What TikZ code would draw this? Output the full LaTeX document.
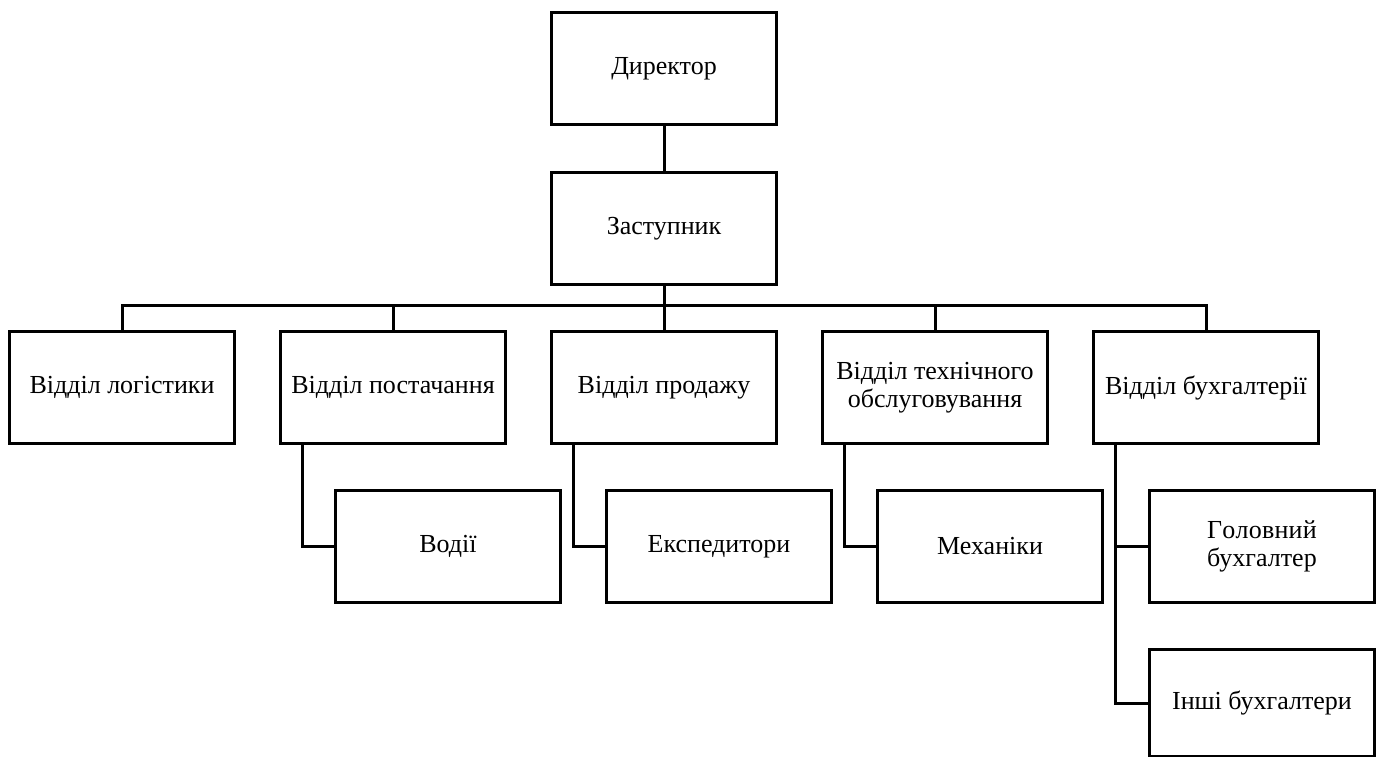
\documentclass[tikz,border=0pt]{standalone}
\usepackage{fontspec}
\setmainfont{Liberation Serif}
\newfontfamily\boxfont{Liberation Serif}
\usetikzlibrary{calc}
\begin{document}
\begin{tikzpicture}[x=1pt,y=-1pt,
  box/.style={draw=black,line width=3pt,minimum width=225pt,minimum height=112pt,inner sep=2pt,align=center,font=\boxfont\fontsize{26}{28.5}\selectfont,anchor=north west,text=black},
  conn/.style={draw=black,line width=3pt}]
\useasboundingbox (0,0) rectangle (1379,756);
\node[box] (dir) at (550,11) {Директор};
\node[box] (zas) at (550,171) {Заступник};
\node[box] (log) at (8,330) {Відділ логістики};
\node[box] (pos) at (279,330) {Відділ постачання};
\node[box] (pro) at (550,330) {Відділ продажу};
\node[box] (teh) at (821,330) {Відділ технічного\\обслуговування};
\node[box] (buh) at (1092,330) {Відділ бухгалтерії};
\node[box] (vod) at (334,489) {Водії};
\node[box] (eks) at (605,489) {Експедитори};
\node[box] (meh) at (876,489) {Механіки};
\node[box] (gol) at (1148,489) {\setbox0\hbox{бухгалтер}\hbox to \wd0{Г\hfil о\hfil л\hfil о\hfil в\hfil н\hfil и\hfil й}\\бухгалтер};
\node[box,minimum height=107pt] (inshi) at (1148,648) {Інші бухгалтери};
\coordinate (bus) at (662,305);
\draw[conn] (dir.south) -- (zas.north);
\draw[conn] (zas.south) -- (pro.north);
\draw[conn] (log.north) |- (bus) -| (buh.north);
\draw[conn] (pos.north) -- (pos.north |- bus);
\draw[conn] (teh.north) -- (teh.north |- bus);
\coordinate (pb) at ($(pos.south west)+(23,0)$);
\coordinate (prb) at ($(pro.south west)+(23,0)$);
\coordinate (tb) at ($(teh.south west)+(23,0)$);
\coordinate (bb) at ($(buh.south west)+(23,0)$);
\draw[conn] (pb) |- (vod.west);
\draw[conn] (prb) |- (eks.west);
\draw[conn] (tb) |- (meh.west);
\draw[conn] (bb) |- (inshi.west);
\draw[conn] (gol.west) -- (gol.west -| bb);
\end{tikzpicture}
\end{document}
